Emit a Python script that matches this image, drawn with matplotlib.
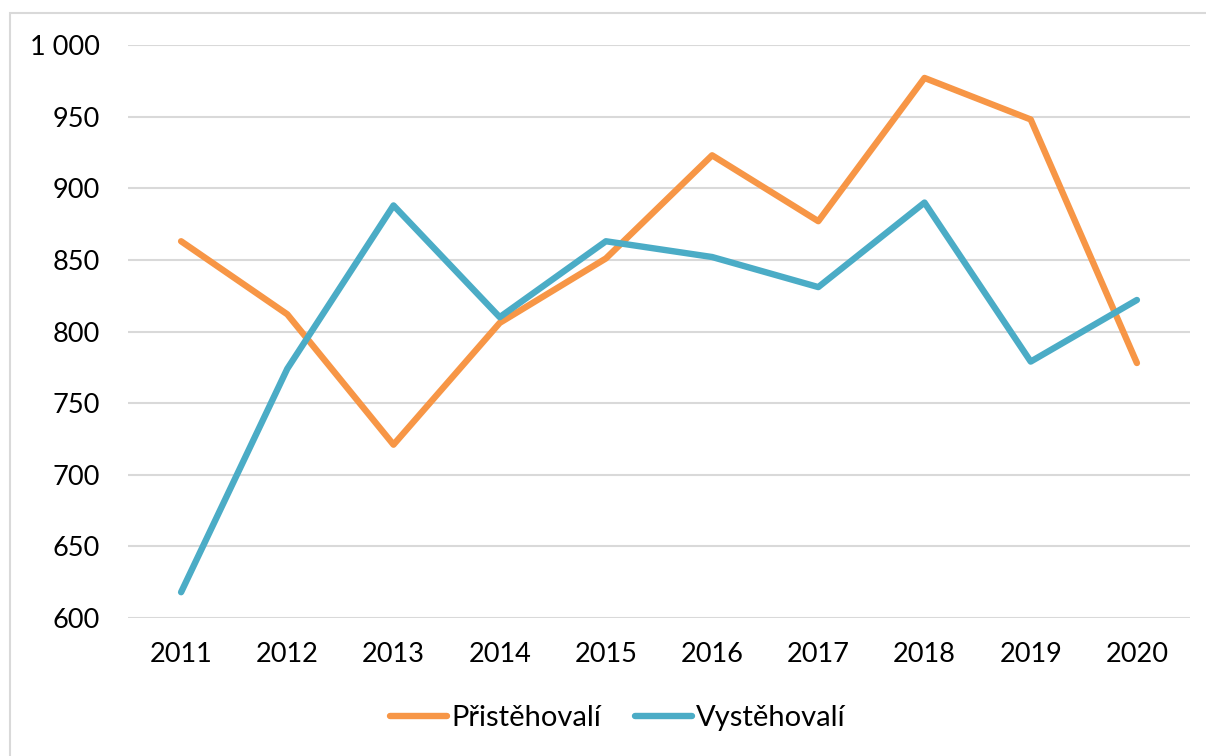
import matplotlib.pyplot as plt
from matplotlib.patches import Rectangle
from matplotlib.ticker import FuncFormatter

years = ['2011', '2012', '2013', '2014', '2015', '2016', '2017', '2018', '2019', '2020']
pristehovali = [863, 812, 721, 806, 851, 923, 877, 977, 948, 778]
vystehovali = [618, 774, 888, 810, 863, 852, 831, 890, 779, 822]

plt.rcParams['font.family'] = ['Lato', 'DejaVu Sans']

fig = plt.figure(figsize=(12.06, 7.56), dpi=100)
ax = fig.add_axes([128 / 1206, 1 - 618 / 756, 1062 / 1206, 573 / 756])

x = range(len(years))
ax.plot(x, pristehovali, color='#F79646', lw=4.6, solid_capstyle='round',
        solid_joinstyle='round', label='Přistěhovalí', zorder=3)
ax.plot(x, vystehovali, color='#4BACC6', lw=4.6, solid_capstyle='round',
        solid_joinstyle='round', label='Vystěhovalí', zorder=3)

ax.set_xlim(-0.5, 9.5)
ax.set_ylim(600, 1000)
ax.set_yticks(range(600, 1001, 50))
ax.yaxis.set_major_formatter(FuncFormatter(lambda v, p: f'{int(v):,}'.replace(',', ' ')))
ax.set_xticks(list(x))
ax.set_xticklabels(years)
ax.grid(axis='y', color='#D9D9D9', lw=1.5)
ax.set_axisbelow(True)
for s in ax.spines.values():
    s.set_visible(False)
ax.tick_params(length=0, labelsize=19.5)
ax.tick_params(axis='x', pad=17)
ax.tick_params(axis='y', pad=20)

# legend sits slightly right of the figure centre, as in the original
fig.legend(loc='center', bbox_to_anchor=(618 / 1206, 1 - 718 / 756), ncol=2, frameon=False,
           fontsize=21, handlelength=1.95, columnspacing=1.15, handletextpad=0.15)

fig.patches.append(Rectangle((10 / 1206, -0.1), 1.2, 1 - 13 / 756 + 0.1,
                             transform=fig.transFigure, fill=False,
                             edgecolor='#D9D9D9', lw=1.5))

fig.savefig('out.png', dpi=100)
